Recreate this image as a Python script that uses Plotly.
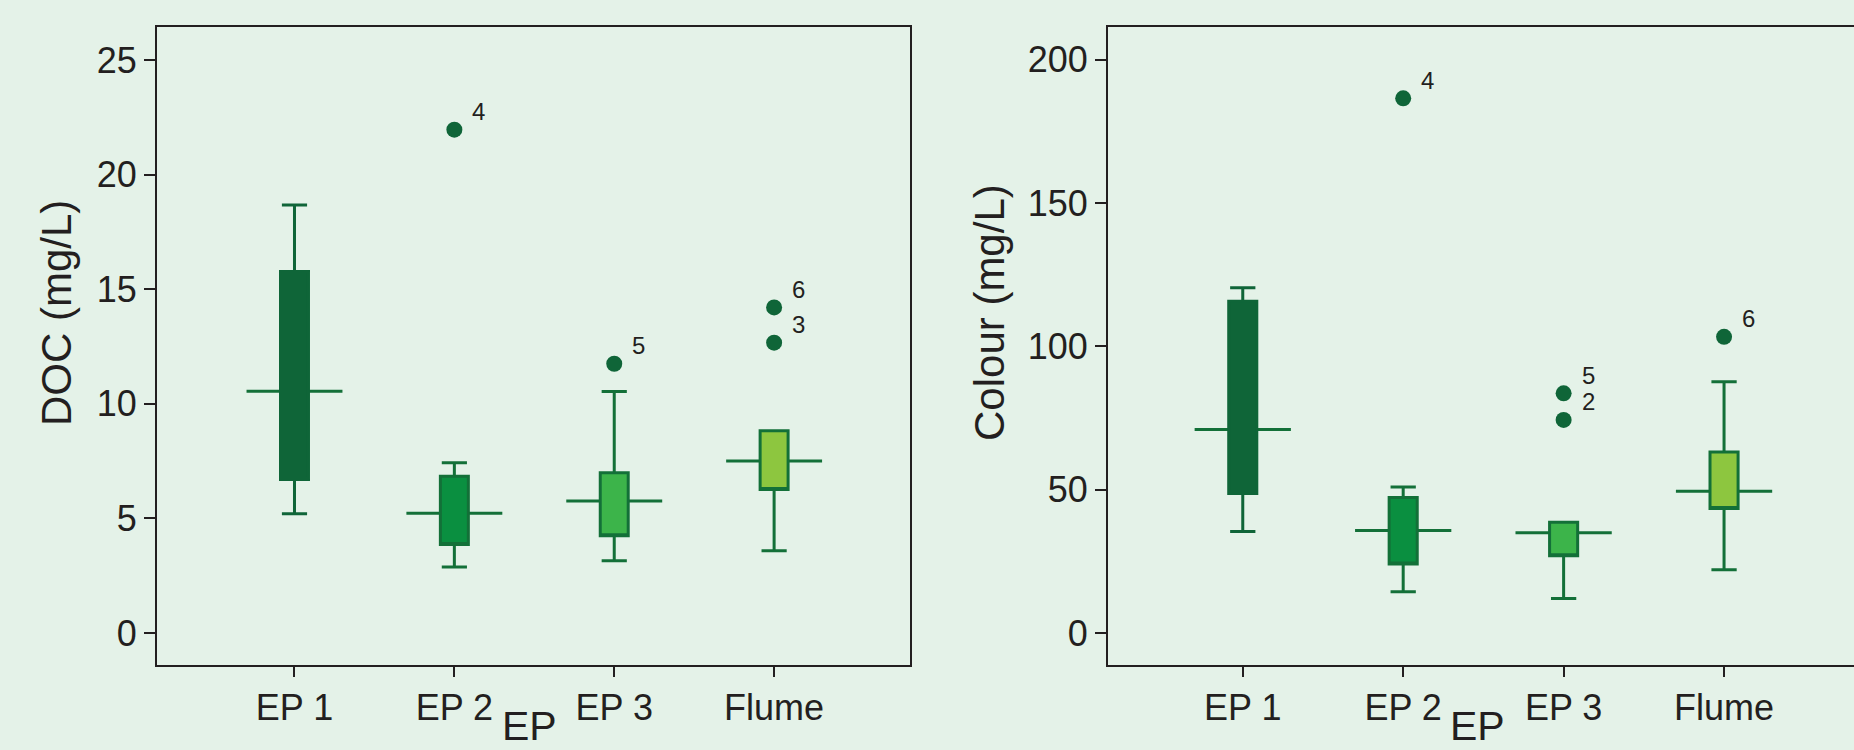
import plotly.graph_objects as go

# ---------------- data ----------------
categories = ["EP 1", "EP 2", "EP 3", "Flume"]

doc_lower = [5.20, 2.88, 3.15, 3.59]
doc_q1 = [6.70, 3.86, 4.24, 6.26]
doc_median = [10.55, 5.22, 5.76, 7.51]
doc_q3 = [15.78, 6.84, 6.99, 8.83]
doc_upper = [18.68, 7.43, 10.54, 8.83]
doc_outlier_cat = ["EP 2", "EP 3", "Flume", "Flume"]
doc_outlier_val = [21.97, 11.75, 14.21, 12.67]
doc_outlier_id = ["4", "5", "6", "3"]

col_lower = [35.4, 14.4, 12.0, 22.0]
col_q1 = [48.6, 24.0, 26.9, 43.4]
col_median = [70.95, 35.7, 34.9, 49.4]
col_q3 = [115.7, 47.2, 38.6, 63.1]
col_upper = [120.4, 50.9, 38.6, 87.6]
col_outlier_cat = ["EP 2", "EP 3", "EP 3", "Flume"]
col_outlier_val = [186.5, 83.6, 74.3, 103.3]
col_outlier_id = ["4", "5", "2", "6"]

doc_ticks = [0, 5, 10, 15, 20, 25]
col_ticks = [0, 50, 100, 150, 200]

# ---------------- styles ----------------
BG = "#e4f2e8"
INK = "#231f20"
DARK = "#0f6538"
LINE = "#137038"
fill_colors = ["#0f6538", "#0a8f40", "#3cb44a", "#8dc63f"]
edge_colors = ["#0f6538", "#137038", "#137038", "#137038"]
FONT = "Liberation Sans, Arial, Helvetica, sans-serif"

W, H = 1854, 750

fig = go.Figure()


def add_panel(xa, ya, lower, q1, med, q3, upper, o_cat, o_val, o_id):
    # median lines (wide, drawn behind boxes)
    fig.add_trace(go.Box(
        x=categories, q1=med, median=med, q3=med,
        lowerfence=med, upperfence=med,
        width=0.6, whiskerwidth=0,
        line=dict(color=LINE, width=3), fillcolor="rgba(0,0,0,0)",
        boxpoints=False, hoverinfo="skip",
        xaxis=xa, yaxis=ya, showlegend=False,
    ))
    # boxes + whiskers (median shown by the wide line above)
    for i, cat in enumerate(categories):
        fig.add_trace(go.Box(
            x=[cat], q1=[q1[i]], median=[q1[i]], q3=[q3[i]],
            lowerfence=[lower[i]], upperfence=[upper[i]],
            width=0.175, whiskerwidth=0.9,
            line=dict(color=edge_colors[i], width=3),
            fillcolor=fill_colors[i],
            boxpoints=False, name=cat,
            xaxis=xa, yaxis=ya, showlegend=False,
        ))
    # outliers
    fig.add_trace(go.Scatter(
        x=o_cat, y=o_val, mode="markers",
        marker=dict(size=16, color=DARK, line=dict(width=0)),
        xaxis=xa, yaxis=ya, showlegend=False,
    ))
    for c, v, t in zip(o_cat, o_val, o_id):
        fig.add_annotation(
            x=c, y=v, xref=xa, yref=ya, text=t, showarrow=False,
            xanchor="left", yanchor="middle", xshift=16, yshift=18,
            font=dict(size=24, color=INK, family=FONT),
        )


add_panel("x", "y", doc_lower, doc_q1, doc_median, doc_q3, doc_upper,
          doc_outlier_cat, doc_outlier_val, doc_outlier_id)
add_panel("x2", "y2", col_lower, col_q1, col_median, col_q3, col_upper,
          col_outlier_cat, col_outlier_val, col_outlier_id)

ydom = [(H - 665) / H, (H - 27) / H]
xdom1 = [157 / W, 910 / W]
xdom2 = [1108 / W, 1.0]

xcommon = dict(
    type="category", categoryorder="array", categoryarray=categories,
    showline=True, linecolor=INK, linewidth=2,
    ticks="outside", ticklen=10, tickwidth=2, tickcolor=INK,
    tickfont=dict(size=36, color=INK, family=FONT),
    showgrid=False, zeroline=False,
)
ycommon = dict(
    showline=True, linecolor=INK, linewidth=2,
    ticks="outside", ticklen=11, tickwidth=2, tickcolor=INK,
    tickfont=dict(size=36, color=INK, family=FONT),
    showgrid=False, zeroline=False,
)

fig.update_layout(
    width=W, height=H,
    margin=dict(l=0, r=0, t=0, b=0),
    paper_bgcolor=BG, plot_bgcolor=BG,
    boxmode="overlay", showlegend=False,
    xaxis=dict(xcommon, domain=xdom1, range=[-0.86, 3.85],
               anchor="y", mirror=True),
    yaxis=dict(ycommon, domain=ydom, range=[-1.4, 26.45], anchor="x",
               tickvals=doc_ticks, mirror=True),
    xaxis2=dict(xcommon, domain=xdom2, range=[-0.84, 3.81],
                anchor="y2", mirror=True),
    yaxis2=dict(ycommon, domain=ydom, range=[-11.2, 211.4], anchor="x2",
                tickvals=col_ticks, mirror=False),
)

# x-axis titles, kept inside the page's bottom edge
for xd in (xdom1, xdom2):
    fig.add_annotation(x=(xd[0] + xd[1]) / 2 - 4 / W, y=0, xref="paper", yref="paper",
                       text="EP", showarrow=False,
                       xanchor="center", yanchor="bottom", yshift=0,
                       borderpad=0,
                       font=dict(size=41, color=INK, family=FONT))

# y-axis titles (placed slightly above the panel centre as in the original)
fig.add_annotation(x=56 / W, y=(H - 313) / H, xref="paper", yref="paper",
                   text="DOC (mg/L)", textangle=-90, showarrow=False,
                   xanchor="center", yanchor="middle",
                   font=dict(size=42, color=INK, family=FONT))
fig.add_annotation(x=989 / W, y=(H - 313) / H, xref="paper", yref="paper",
                   text="Colour (mg/L)", textangle=-90, showarrow=False,
                   xanchor="center", yanchor="middle",
                   font=dict(size=42, color=INK, family=FONT))

page_fix = (
    "document.documentElement.style.margin='0';"
    "document.body.style.margin='0';"
    "document.body.style.overflow='hidden';"
    "document.body.style.background='" + BG + "';"
)

fig.write_html("out.html", config={"displayModeBar": False}, post_script=page_fix)
